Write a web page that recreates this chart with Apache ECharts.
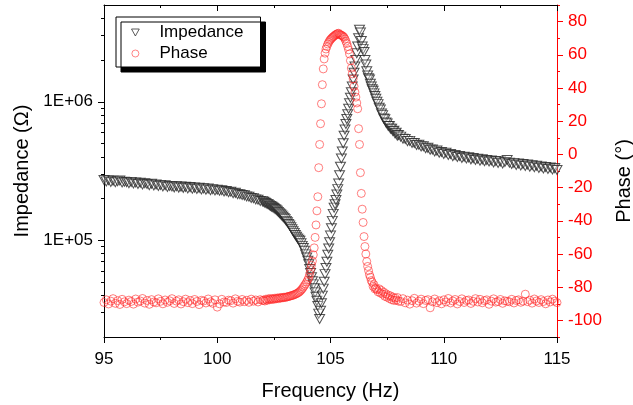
<!DOCTYPE html>
<html><head><meta charset="utf-8">
<script src="https://cdn.jsdelivr.net/npm/echarts@6/dist/echarts.min.js"></script>
<style>html,body{margin:0;padding:0;background:#fff}#c{width:633px;height:405px}</style>
</head><body><div id="c"></div>
<script>
// ---------- DATA ----------
const freqLow = [95,95.1,95.2,95.3,95.4,95.5,95.6,95.7,95.8,95.9,
  96,96.1,96.2,96.3,96.4,96.5,96.6,96.7,96.8,96.9,
  97,97.1,97.2,97.3,97.4,97.5,97.6,97.7,97.8,97.9,
  98,98.1,98.2,98.3,98.4,98.5,98.6,98.7,98.8,98.9,
  99,99.1,99.2,99.3,99.4,99.5,99.6,99.7,99.8,99.9,
  100,100.1,100.2,100.3,100.4,100.5,100.6,100.7,100.8,100.9,
  101,101.1,101.2,101.3,101.4,101.5,101.6,101.7,101.8,101.9,102];
const impLow = [2.72e5,2.66e5,2.71e5,2.64e5,2.69e5,2.62e5,2.67e5,2.70e5,2.61e5,2.65e5,
  2.63e5,2.58e5,2.64e5,2.57e5,2.61e5,2.55e5,2.60e5,2.53e5,2.58e5,2.55e5,
  2.50e5,2.56e5,2.49e5,2.53e5,2.47e5,2.51e5,2.45e5,2.50e5,2.43e5,2.47e5,
  2.45e5,2.41e5,2.46e5,2.40e5,2.44e5,2.39e5,2.43e5,2.37e5,2.42e5,2.36e5,
  2.40e5,2.35e5,2.39e5,2.33e5,2.37e5,2.32e5,2.36e5,2.30e5,2.34e5,2.29e5,
  2.32e5,2.28e5,2.30e5,2.25e5,2.27e5,2.22e5,2.24e5,2.19e5,2.20e5,2.15e5,
  2.15e5,2.12e5,2.11e5,2.07e5,2.06e5,2.02e5,2.01e5,1.97e5,1.96e5,1.92e5,1.91e5];
const phaseLow = [-89.2,-87.6,-90.1,-88.4,-86.9,-89.7,-88.1,-90.4,-87.3,-88.8,
  -89.9,-87.8,-88.6,-90.2,-87.1,-89.0,-88.3,-86.8,-89.6,-88.0,
  -90.3,-87.5,-88.9,-89.4,-87.0,-88.5,-90.0,-87.7,-89.1,-88.2,
  -86.9,-89.8,-88.4,-87.6,-90.1,-88.7,-87.2,-89.3,-88.0,-89.9,
  -87.4,-88.6,-90.5,-87.9,-88.3,-89.5,-87.1,-88.8,-89.7,-87.6,
  -92.0,-90.0,-87.3,-88.9,-89.2,-87.8,-88.1,-89.6,-87.0,-88.5,
  -89.0,-87.4,-88.7,-87.9,-89.1,-87.2,-88.4,-87.7,-88.9,-87.5,-88.0];

const freqMid = [102.05,102.1,102.15,102.2,102.25,102.3,102.35,102.4,102.45,102.5,
  102.55,102.6,102.65,102.7,102.75,102.8,102.85,102.9,102.95,103,
  103.05,103.1,103.15,103.2,103.25,103.3,103.35,103.4,103.45,103.5,
  103.55,103.6,103.65,103.7,103.75,103.8,103.85,103.9,103.95,104,
  104.04,104.08,104.12,104.16,104.2,104.24,104.28,104.32,104.36,104.4,104.44,104.48,
  104.52,104.56,104.6,104.64,104.68,104.72,104.76,104.8,104.84,104.88,104.92,104.96,
  105,105.04,105.08,105.12,105.16,105.2,105.24,105.28,105.32,105.36,105.4,105.44,
  105.48,105.52,105.56,105.6,105.64,105.68,105.72,105.76,105.8,105.84,105.88,105.92,
  105.96,106,106.04,106.08,106.12,106.16,106.2,106.24,106.28,106.32,106.36,106.4,
  106.44,106.48,106.52,106.56,106.6,106.64,106.68,106.72,106.76,106.8,106.84,106.88,
  106.92,106.96,107,
  107.05,107.1,107.15,107.2,107.25,107.3,107.35,107.4,107.45,107.5,
  107.55,107.6,107.65,107.7,107.75,107.8,107.85,107.9,107.95,108];
const impMid = [1.90e5,1.87e5,1.86e5,1.83e5,1.82e5,1.79e5,1.77e5,1.75e5,1.73e5,1.71e5,
  1.68e5,1.66e5,1.63e5,1.60e5,1.57e5,1.54e5,1.51e5,1.48e5,1.45e5,1.42e5,
  1.38e5,1.35e5,1.31e5,1.28e5,1.24e5,1.20e5,1.16e5,1.13e5,1.09e5,1.06e5,
  1.03e5,1.01e5,9.9e4,9.5e4,9.1e4,8.8e4,8.4e4,7.9e4,7.5e4,7.1e4,
  6.7e4,6.2e4,5.8e4,5.4e4,5.05e4,4.8e4,4.5e4,4.2e4,3.9e4,3.65e4,3.35e4,2.95e4,
  2.7e4,3.09e4,3.51e4,3.98e4,4.47e4,5.01e4,5.69e4,6.31e4,7.0e4,7.85e4,8.71e4,9.66e4,
  1.08e5,1.22e5,1.38e5,1.55e5,1.72e5,1.82e5,1.95e5,2.14e5,2.34e5,2.57e5,2.95e5,3.39e5,
  3.89e5,4.37e5,5.01e5,5.69e5,6.31e5,6.92e5,7.5e5,8.13e5,8.91e5,9.77e5,1.07e6,1.17e6,
  1.29e6,1.45e6,1.62e6,1.80e6,2.0e6,2.24e6,2.51e6,2.88e6,3.31e6,3.16e6,2.75e6,2.51e6,
  2.40e6,2.29e6,2.0e6,1.86e6,1.66e6,1.55e6,1.48e6,1.45e6,1.35e6,1.29e6,1.23e6,1.20e6,
  1.15e6,1.10e6,1.05e6,
  1.00e6,9.62e5,9.05e5,8.78e5,8.22e5,8.01e5,7.58e5,7.48e5,7.08e5,6.98e5,
  6.68e5,6.69e5,6.38e5,6.40e5,6.15e5,6.18e5,5.90e5,5.97e5,5.70e5,5.76e5];
const phaseMid = [-87.8,-88.3,-87.2,-87.9,-87.0,-87.6,-86.8,-87.4,-86.9,-87.3,
  -86.6,-87.0,-86.5,-86.9,-86.3,-86.6,-86.2,-86.4,-86.0,-86.2,
  -85.9,-85.8,-85.6,-85.4,-85.2,-85.0,-84.8,-84.5,-84.2,-83.9,
  -83.5,-83.1,-82.5,-81.8,-81.0,-80.0,-79.0,-78.0,-76.8,-75.6,
  -74.2,-72.0,-69.5,-66.8,-64.2,-60.5,-56.3,-50.0,-42.5,-34.0,-25.5,-8.0,
  6.0,18.5,30.5,42.0,51.5,57.5,61.0,63.5,65.0,66.5,67.5,68.5,
  69.2,69.8,70.4,70.9,71.3,71.8,72.2,72.5,72.8,73.0,72.3,72.0,
  71.8,71.5,71.0,70.5,69.5,68.2,66.8,65.0,63.0,60.5,56.5,52.0,
  48.5,45.5,41.0,37.5,34.5,31.0,27.5,15.5,6.0,-11.0,-23.5,-33.0,
  -41.0,-49.5,-55.5,-60.0,-64.5,-67.5,-70.0,-72.5,-74.0,-76.0,-77.0,-79.5,
  -78.5,-81.0,-80.5,
  -81.5,-82.8,-81.0,-83.5,-82.0,-84.2,-83.0,-85.5,-84.0,-86.0,
  -84.8,-86.8,-85.2,-87.5,-86.0,-88.0,-86.5,-87.8,-86.2,-88.4];

const freqHigh = [108.1,108.2,108.3,108.4,108.5,108.6,108.7,108.8,108.9,109,
  109.1,109.2,109.3,109.4,109.5,109.6,109.7,109.8,109.9,110,
  110.1,110.2,110.3,110.4,110.5,110.6,110.7,110.8,110.9,111,
  111.1,111.2,111.3,111.4,111.5,111.6,111.7,111.8,111.9,112,
  112.1,112.2,112.3,112.4,112.5,112.6,112.7,112.8,112.9,113,
  113.1,113.2,113.3,113.4,113.5,113.6,113.7,113.8,113.9,114,
  114.1,114.2,114.3,114.4,114.5,114.6,114.7,114.8,114.9,115];
const impHigh = [5.60e5,5.42e5,5.38e5,5.20e5,5.22e5,5.05e5,5.04e5,4.88e5,4.90e5,4.75e5,
  4.78e5,4.62e5,4.65e5,4.50e5,4.52e5,4.38e5,4.44e5,4.29e5,4.34e5,4.20e5,
  4.28e5,4.13e5,4.20e5,4.05e5,4.12e5,3.99e5,4.06e5,3.93e5,4.01e5,3.90e5,
  3.97e5,3.84e5,3.92e5,3.80e5,3.88e5,3.76e5,3.84e5,3.72e5,3.80e5,3.70e5,
  3.77e5,3.65e5,3.74e5,3.62e5,3.71e5,3.59e5,3.67e5,3.80e5,3.63e5,3.55e5,
  3.62e5,3.50e5,3.59e5,3.47e5,3.55e5,3.44e5,3.52e5,3.40e5,3.48e5,3.37e5,
  3.45e5,3.33e5,3.41e5,3.30e5,3.38e5,3.27e5,3.35e5,3.24e5,3.32e5,3.22e5];
const phaseHigh = [-88.6,-86.9,-89.4,-87.8,-90.2,-88.1,-86.7,-89.6,-88.4,-87.2,
  -89.9,-88.0,-87.5,-92.4,-88.8,-87.1,-89.3,-88.2,-90.0,-87.6,
  -88.9,-86.8,-89.5,-88.3,-87.4,-90.1,-88.6,-87.0,-89.2,-88.0,
  -87.7,-89.8,-88.5,-86.9,-88.9,-87.3,-89.4,-88.1,-87.6,-90.3,
  -88.4,-87.0,-89.0,-88.6,-87.4,-89.7,-88.2,-88.5,-88.8,-87.3,
  -89.5,-88.0,-87.6,-89.1,-88.4,-84.2,-88.7,-87.8,-89.6,-87.1,
  -88.3,-89.2,-87.5,-88.6,-90.0,-87.7,-88.9,-87.2,-88.4,-89.3];

// axis ticks / labels
const impMajorTicks = [1e5, 1e6];
const impMinorTicks = [3e4,4e4,5e4,6e4,7e4,8e4,9e4,2e5,3e5,4e5,5e5,6e5,7e5,8e5,9e5,2e6,3e6,4e6];
const phaseMajorTicks = [-100,-80,-60,-40,-20,0,20,40,60,80];
const phaseMinorTicks = [-110,-90,-70,-50,-30,-10,10,30,50,70,90];

// ---------- BUILD ----------
const freq = freqLow.concat(freqMid, freqHigh);
const imp = impLow.concat(impMid, impHigh);
const phase = phaseLow.concat(phaseMid, phaseHigh);
const impData = freq.map((f, i) => [f, imp[i]]);
const phaseData = freq.map((f, i) => [f, phase[i]]);

const FONT = '"Liberation Sans", Arial, Helvetica, sans-serif';
const black = '#000';
const red = '#ff0000';
const TRI = 'path://M0,0L10,0L5,9Z';
const impStyle = {color: 'rgba(255,255,255,0.35)', borderColor: '#262626', borderWidth: 1};
const phaseStyle = {color: 'rgba(255,255,255,0)', borderColor: 'rgba(255,40,40,0.75)', borderWidth: 1};

const chart = echarts.init(document.getElementById('c'), null, {renderer: 'canvas'});
chart.setOption({
  animation: false,
  backgroundColor: '#fff',
  textStyle: {fontFamily: FONT},
  grid: {left: 104, right: 76, top: 5, bottom: 68, containLabel: false, outerBoundsMode: 'none'},
  legend: {
    orient: 'vertical', left: 116, top: 17,
    padding: [7, 17, 5, 15], itemGap: 4, itemWidth: 38, itemHeight: 7,
    backgroundColor: '#fff', borderColor: black, borderWidth: 1,
    shadowColor: black, shadowBlur: 0, shadowOffsetX: 5, shadowOffsetY: 5,
    textStyle: {fontSize: 17, fontFamily: FONT, color: black},
    data: [
      {name: 'Impedance', icon: TRI, itemStyle: {color: '#fff', borderColor: '#333', borderWidth: 1}},
      {name: 'Phase', icon: 'circle', itemStyle: {color: '#fff', borderColor: 'rgba(255,40,40,0.7)', borderWidth: 1}}
    ]
  },
  xAxis: [
    {
      type: 'value', position: 'bottom', min: 95, max: 115, interval: 5,
      axisLine: {onZero: false, lineStyle: {color: black, width: 1}},
      axisTick: {length: 6, lineStyle: {color: black}},
      minorTick: {show: true, splitNumber: 2, length: 3, lineStyle: {color: black}},
      axisLabel: {fontSize: 17, color: black, margin: 14, fontFamily: FONT},
      splitLine: {show: false},
      name: 'Frequency (Hz)', nameLocation: 'middle', nameGap: 44,
      nameTextStyle: {fontSize: 20, color: black, fontFamily: FONT}
    },
    {
      type: 'value', position: 'top', min: 95, max: 115, interval: 5,
      axisLine: {onZero: false, lineStyle: {color: black, width: 1}},
      axisTick: {inside: true, length: 6, lineStyle: {color: black}},
      minorTick: {show: true, splitNumber: 2, length: 3, lineStyle: {color: black}},
      axisLabel: {show: false},
      splitLine: {show: false}
    }
  ],
  yAxis: [
    {
      type: 'log', position: 'left', min: 2e4, max: 5e6,
      axisLine: {show: true, onZero: false, lineStyle: {color: black, width: 1}},
      axisTick: {show: true, length: 6, customValues: impMajorTicks, lineStyle: {color: black}},
      axisLabel: {customValues: impMajorTicks, fontSize: 17, color: black, margin: 11, fontFamily: FONT,
        formatter: v => '1E+0' + Math.round(Math.log10(v))},
      splitLine: {show: false},
      name: 'Impedance (Ω)', nameLocation: 'middle', nameGap: 72,
      nameTextStyle: {fontSize: 20, color: black, fontFamily: FONT}
    },
    {
      type: 'value', position: 'right', min: -110, max: 90,
      axisLine: {show: true, onZero: false, lineStyle: {color: red, width: 1}},
      axisTick: {show: true, length: 6, customValues: phaseMajorTicks, lineStyle: {color: red}},
      axisLabel: {customValues: phaseMajorTicks, fontSize: 17, color: red, margin: 11, fontFamily: FONT},
      splitLine: {show: false},
      name: 'Phase (°)', nameLocation: 'middle', nameGap: 57,
      nameTextStyle: {fontSize: 20, color: black, fontFamily: FONT, padding: [0, 20, 0, 0]}
    },
    {
      type: 'log', position: 'left', min: 2e4, max: 5e6,
      axisLine: {show: false, onZero: false},
      axisTick: {show: true, length: 3, customValues: impMinorTicks, lineStyle: {color: black}},
      axisLabel: {show: false},
      splitLine: {show: false}
    },
    {
      type: 'value', position: 'right', min: -110, max: 90,
      axisLine: {show: false, onZero: false},
      axisTick: {show: true, length: 3, customValues: phaseMinorTicks, lineStyle: {color: red}},
      axisLabel: {show: false},
      splitLine: {show: false}
    }
  ],
  series: [
    {
      type: 'scatter', name: 'Impedance', xAxisIndex: 0, yAxisIndex: 0,
      data: impData,
      symbol: TRI, symbolSize: [10, 9],
      itemStyle: impStyle,
      z: 2
    },
    {
      type: 'scatter', name: 'Phase', xAxisIndex: 0, yAxisIndex: 1,
      data: phaseData,
      symbol: 'circle', symbolSize: 8,
      itemStyle: phaseStyle,
      z: 3
    }
  ]
});
</script>
</body></html>
